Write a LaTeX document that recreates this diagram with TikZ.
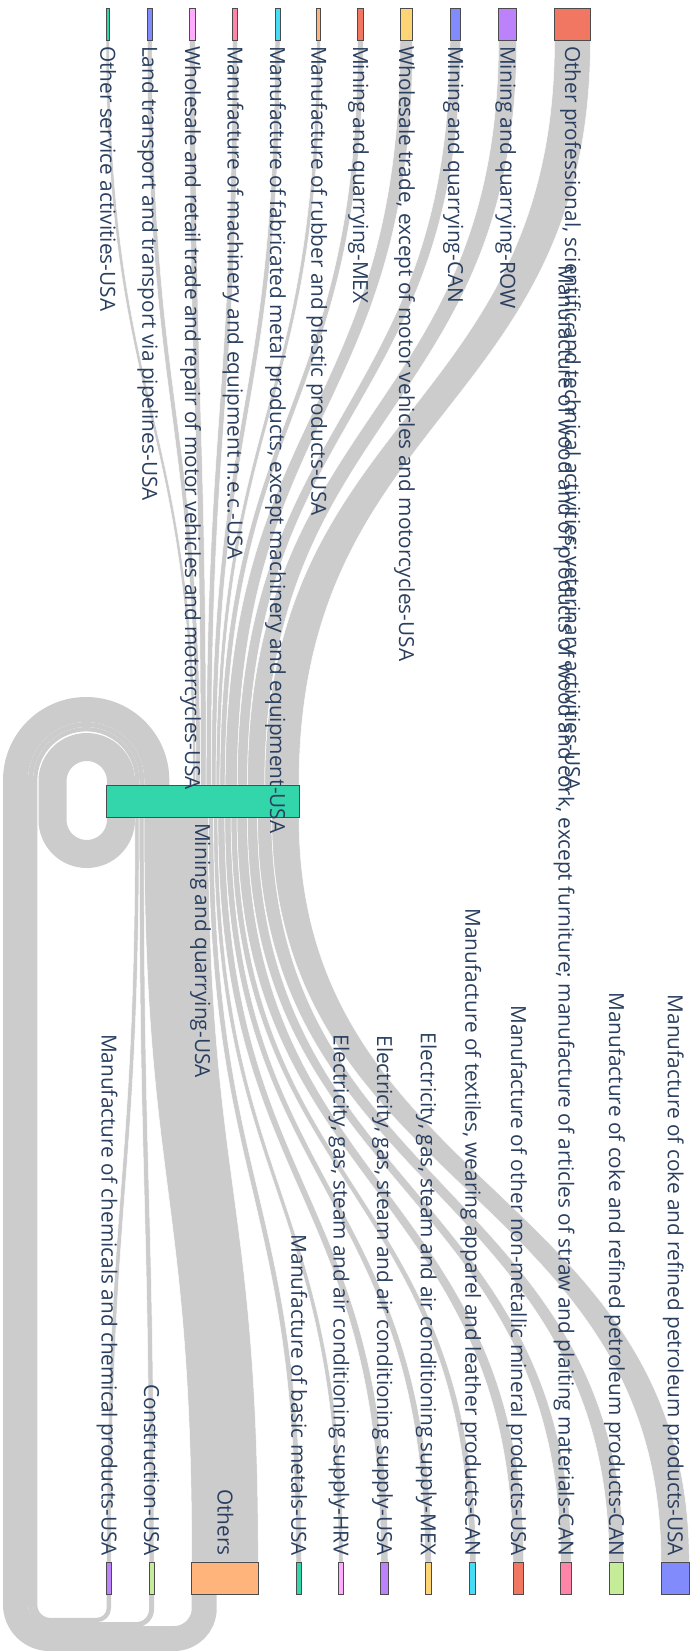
\documentclass[tikz,border=0pt]{standalone}
\usepackage{fontspec}
\setmainfont{Open Sans}
\usetikzlibrary{calc,backgrounds}
\definecolor{linkgray}{HTML}{CCCCCC}
\definecolor{labelblue}{HTML}{2A3F5F}
\definecolor{cblue}{HTML}{828BFB}
\definecolor{cred}{HTML}{F27762}
\definecolor{cgreen}{HTML}{33D6AB}
\definecolor{cpurple}{HTML}{BC82FB}
\definecolor{corange}{HTML}{FFB47B}
\definecolor{ccyan}{HTML}{47DCF5}
\definecolor{cpink}{HTML}{FF85A8}
\definecolor{clgreen}{HTML}{C5ED99}
\definecolor{clpink}{HTML}{FFACFF}
\definecolor{cyellow}{HTML}{FED575}
\tikzset{
  box/.style={draw=black!70, line width=0.8pt, inner sep=0pt, outer sep=0pt,
              minimum height=32pt, anchor=north west},
  lab/.style={text=labelblue, font=\fontsize{20.8}{24}\selectfont,
              inner sep=0pt, rotate=-90},
  link/.style={fill=linkgray, draw=white, line width=0.5pt},
  cyc/.style={draw=linkgray}
}
% band between two node sides, curvature at half height
\newcommand{\band}[4]{%
  \path[link] let \p1=#1, \p2=#2, \p3=#3, \p4=#4, \p5=($(\p1)!.5!(\p3)$) in
    (\p1) .. controls (\x1,\y5) and (\x3,\y5) .. (\p3) -- (\p4)
    .. controls (\x4,\y5) and (\x2,\y5) .. (\p2) -- cycle;}

\begin{document}
\begin{tikzpicture}[x=1pt, y=-1pt]
  \useasboundingbox (0,0) rectangle (696,1651);

  % sources
  \foreach \n/\x/\w/\c in {os/106/3.3/cgreen, lt/147.3/4.7/cblue,
      wr/189.3/6/clpink, ma/232.3/5.4/cpink, fa/275/5/ccyan,
      ru/316.7/4/corange, mx/357.7/5.6/cred, wt/400/12.7/cyellow,
      ca/450/10.7/cblue, rw/498.5/18.2/cpurple, op/554.5/36/cred}
    \node[box, fill=\c, minimum width=\w pt] (\n) at (\x,8) {};

  % middle
  \node[box, fill=cgreen, minimum width=193pt] (mid) at (106,785) {};

  % targets
  \foreach \n/\x/\w/\c in {ch/106.7/4.3/cpurple, co/149/5/clgreen,
      ot/191.7/66.6/corange, bm/296/5.5/cgreen, hr/338.6/4.4/clpink,
      eu/380.8/7.2/cpurple, em/425/6.4/cyellow, tx/469.6/6.2/ccyan,
      nm/513/10.7/cred, st/560.6/10.6/cpink, cc/609/14.6/clgreen,
      cu/661/28.3/cblue}
    \node[box, fill=\c, minimum width=\w pt] (\n) at (\x,1562) {};

  \begin{pgfonlayer}{background}
    \foreach \s/\a/\b in {os/86.9/90, lt/90/94.5, wr/94.5/100.2,
        ma/100.2/105.3, fa/105.3/110.1, ru/110.1/113.9, mx/113.9/119.2,
        wt/119.2/131.3, ca/131.3/141.5, rw/141.5/158.8, op/158.8/193}
      {\band{(\s.south west)}{(\s.south east)}%
            {($(mid.north west)+(\a,0)$)}{($(mid.north west)+(\b,0)$)}}
    \foreach \t/\a/\b in {ch/29/33.2, co/33.2/38, ot/38/102.3,
        bm/102.3/107.6, hr/107.6/111.9, eu/111.9/118.9, em/118.9/125.1,
        tx/125.1/131.1, nm/131.1/141.4, st/141.4/151.6, cc/151.6/165.7,
        cu/165.7/193}
      {\band{($(mid.south west)+(\a,0)$)}{($(mid.south west)+(\b,0)$)}%
            {(\t.north west)}{(\t.north east)}}

    % loops back into the middle node
    \draw[cyc, line width=28pt] ($(mid.south west)+(15,0)$) -- ++(0,2.75)
      arc[start angle=0, end angle=180, radius=34.25] -- ++(0,-38.5)
      arc[start angle=180, end angle=360, radius=34.25]
      -- ($(mid.north west)+(15,0)$);
    \draw[cyc, line width=25pt] ($(ot.south west)+(12.5,0)$) -- ++(0,14.5)
      arc[start angle=0, end angle=90, radius=30] -- ++(-124.7,0)
      arc[start angle=90, end angle=180, radius=34] -- ++(0,-824.35)
      arc[start angle=180, end angle=360, radius=70.65]
      -- ($(mid.north west)+(50.8,0)$);
    \draw[cyc, line width=5pt] (co.south) -- ++(0,15.5)
      arc[start angle=0, end angle=90, radius=15] -- ++(-86,0)
      arc[start angle=90, end angle=180, radius=20] -- ++(0,-824.35)
      arc[start angle=180, end angle=360, radius=55.65]
      -- ($(mid.north west)+(35.8,0)$);
    \draw[cyc, line width=4.3pt] (ch.south) -- ++(0,14)
      arc[start angle=0, end angle=90, radius=12] -- ++(-46.65,0)
      arc[start angle=90, end angle=180, radius=15] -- ++(0,-824.8)
      arc[start angle=180, end angle=360, radius=51]
      -- ($(mid.north west)+(31.2,0)$);
  \end{pgfonlayer}

  % labels
  \foreach \n/\t in {os/{Other service activities-USA},
      lt/{Land transport and transport via pipelines-USA},
      wr/{Wholesale and retail trade and repair of motor vehicles and motorcycles-USA},
      ma/{Manufacture of machinery and equipment n.e.c.-USA},
      fa/{Manufacture of fabricated metal products, except machinery and equipment-USA},
      ru/{Manufacture of rubber and plastic products-USA},
      mx/{Mining and quarrying-MEX},
      wt/{Wholesale trade, except of motor vehicles and motorcycles-USA},
      ca/{Mining and quarrying-CAN},
      rw/{Mining and quarrying-ROW},
      op/{Other professional, scientific and technical activities; veterinary activities-USA},
      mid/{Mining and quarrying-USA}}
    \node[lab, anchor=base west] (\n-lab) at ($(\n.south)+(-7.3,6)$) {\t};
  \foreach \n/\t in {ch/{Manufacture of chemicals and chemical products-USA},
      co/{Construction-USA},
      ot/{Others},
      bm/{Manufacture of basic metals-USA},
      hr/{Electricity, gas, steam and air conditioning supply-HRV},
      eu/{Electricity, gas, steam and air conditioning supply-USA},
      em/{Electricity, gas, steam and air conditioning supply-MEX},
      tx/{Manufacture of textiles, wearing apparel and leather products-CAN},
      nm/{Manufacture of other non-metallic mineral products-USA},
      st/{Manufacture of wood and of products of wood and cork, except furniture; manufacture of articles of straw and plaiting materials-CAN},
      cc/{Manufacture of coke and refined petroleum products-CAN},
      cu/{Manufacture of coke and refined petroleum products-USA}}
    \node[lab, anchor=base east] (\n-lab) at ($(\n.north)+(-7.3,-6)$) {\t};
\end{tikzpicture}
\end{document}
